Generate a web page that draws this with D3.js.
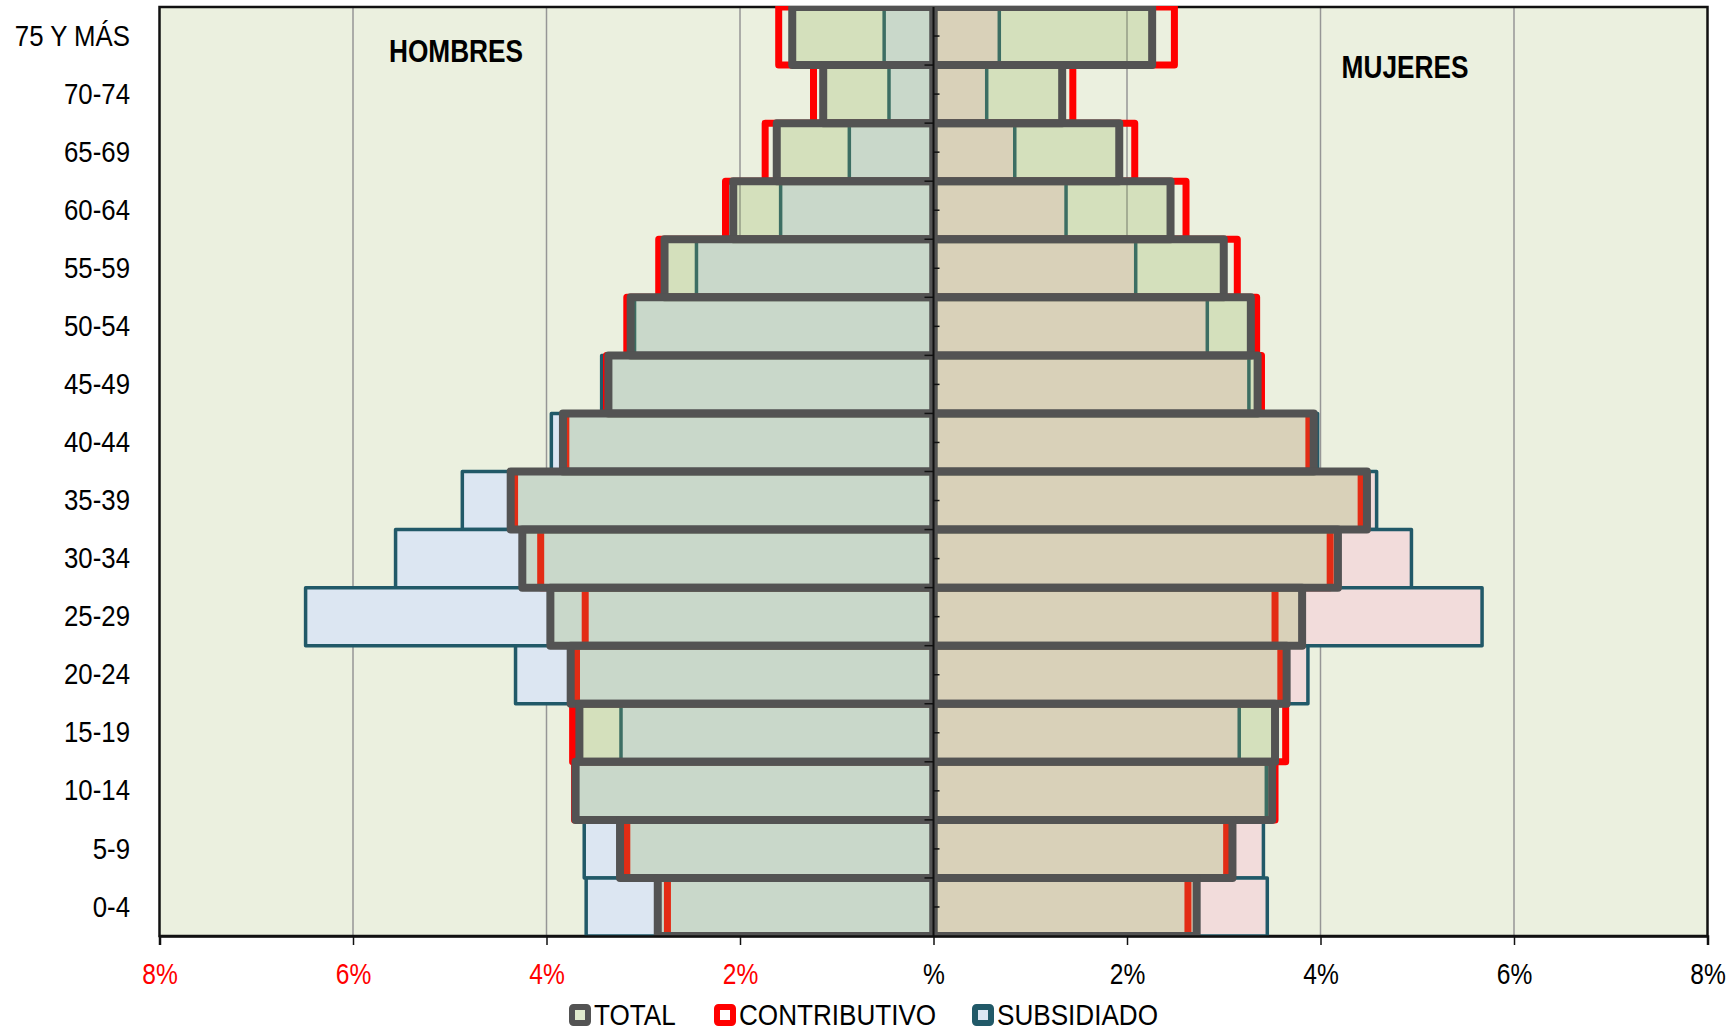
<!DOCTYPE html>
<html>
<head>
<meta charset="utf-8">
<script src="https://cdn.jsdelivr.net/npm/d3@7"></script>
<style>
  body { margin: 0; background: #ffffff; }
  text { font-family: "Liberation Sans Narrow", "Arial Narrow", "Liberation Sans", Arial, sans-serif; }
</style>
</head>
<body>
<div id="chart"></div>
<script>
// Age groups, top to bottom
const ageGroups = ['75 Y MÁS', '70-74', '65-69', '60-64', '55-59', '50-54', '45-49', '40-44',
    '35-39', '30-34', '25-29', '20-24', '15-19', '10-14', '5-9', '0-4'];

// Hombres (% of population)
const menTotal   = [1.46, 1.14, 1.62, 2.07, 2.78, 3.13, 3.36, 3.83, 4.37, 4.25, 3.96, 3.75, 3.66, 3.70, 3.24, 2.85];
const menContrib = [1.60, 1.24, 1.74, 2.15, 2.84, 3.17, 3.38, 3.80, 4.33, 4.06, 3.60, 3.69, 3.73, 3.71, 3.17, 2.75];
const menSubs    = [0.51, 0.46, 0.87, 1.58, 2.45, 3.09, 3.43, 3.95, 4.87, 5.56, 6.49, 4.32, 3.23, 3.68, 3.61, 3.59];

// Mujeres (% of population)
const womenTotal   = [2.26, 1.33, 1.92, 2.45, 3.00, 3.28, 3.35, 3.93, 4.48, 4.18, 3.81, 3.65, 3.53, 3.50, 3.09, 2.72];
const womenContrib = [2.49, 1.44, 2.08, 2.61, 3.14, 3.34, 3.39, 3.88, 4.42, 4.10, 3.53, 3.59, 3.64, 3.53, 3.03, 2.63];
const womenSubs    = [0.68, 0.55, 0.84, 1.37, 2.09, 2.83, 3.26, 3.97, 4.58, 4.94, 5.67, 3.87, 3.16, 3.44, 3.41, 3.45];

const xTicks = [-8, -6, -4, -2, 0, 2, 4, 6, 8];
const legendItems = ['TOTAL', 'CONTRIBUTIVO', 'SUBSIDIADO'];

const W = 1731, H = 1032;
const plot = { left: 159.5, right: 1707.5, top: 7, bottom: 936 };
const narrow = 0.82; // condensed look, no narrow font installed

const svg = d3.select('#chart')
    .append('svg')
    .attr('width', W)
    .attr('height', H);

// Scales
const x = d3.scaleLinear()
    .domain([-8, 8])
    .range([plot.left, plot.right]);

const y = d3.scaleBand()
    .domain(ageGroups)
    .range([plot.top, plot.bottom])
    .padding(0);

// Plot background
svg.append('rect')
    .attr('x', plot.left)
    .attr('y', plot.top)
    .attr('width', plot.right - plot.left)
    .attr('height', plot.bottom - plot.top)
    .attr('fill', '#EBF0DF');

// Grid lines
svg.append('g')
    .selectAll('line')
    .data(xTicks.filter(d => d !== 0 && Math.abs(d) !== 8))
    .enter()
    .append('line')
    .attr('x1', d => x(d))
    .attr('x2', d => x(d))
    .attr('y1', plot.top)
    .attr('y2', plot.bottom)
    .attr('stroke', '#969696')
    .attr('stroke-width', 1.5);

// Plot border
svg.append('rect')
    .attr('x', plot.left)
    .attr('y', plot.top)
    .attr('width', plot.right - plot.left)
    .attr('height', plot.bottom - plot.top)
    .attr('fill', 'none')
    .attr('stroke', '#111111')
    .attr('stroke-width', 2.5);

svg.append('clipPath')
    .attr('id', 'plotClip')
    .append('rect')
    .attr('x', plot.left)
    .attr('y', plot.top - 1)
    .attr('width', plot.right - plot.left)
    .attr('height', plot.bottom - plot.top + 1);

const bars = svg.append('g').attr('clip-path', 'url(#plotClip)');

// Build one layer of bars: sign -1 = hombres, +1 = mujeres
function drawLayer(values, sign, style) {
    bars.append('g')
        .selectAll('rect')
        .data(values.map((v, i) => ({ age: ageGroups[i], v: v })))
        .enter()
        .append('rect')
        .attr('x', d => Math.min(x(0), x(sign * d.v)))
        .attr('y', d => y(d.age))
        .attr('width', d => Math.abs(x(sign * d.v) - x(0)))
        .attr('height', y.bandwidth())
        .attr('fill', style.fill)
        .attr('fill-opacity', style.opacity == null ? 1 : style.opacity)
        .attr('stroke', style.stroke)
        .attr('stroke-width', style.width)
        .attr('stroke-linejoin', 'round');
}

const subsMen = { fill: '#DCE6F2', stroke: '#215968', width: 3.5 };
const subsWomen = { fill: '#F2DCDB', stroke: '#215968', width: 3.5 };
const contribStyle = { fill: 'none', stroke: '#FF0000', width: 7 };
const totalStyle = { fill: '#8FAF54', opacity: 0.25, stroke: '#535353', width: 8 };

drawLayer(menSubs, -1, subsMen);
drawLayer(womenSubs, 1, subsWomen);
drawLayer(menContrib, -1, contribStyle);
drawLayer(womenContrib, 1, contribStyle);
drawLayer(menTotal, -1, totalStyle);
drawLayer(womenTotal, 1, totalStyle);

// Vertical category axis at zero
const zeroAxis = svg.append('g');
zeroAxis.append('line')
    .attr('x1', x(0)).attr('x2', x(0))
    .attr('y1', plot.top).attr('y2', plot.bottom)
    .attr('stroke', '#111111')
    .attr('stroke-width', 2);
// major ticks at band edges
zeroAxis.selectAll('.major')
    .data(ageGroups.slice(1))
    .enter()
    .append('line')
    .attr('x1', x(0) - 9).attr('x2', x(0))
    .attr('y1', d => y(d)).attr('y2', d => y(d))
    .attr('stroke', '#111111')
    .attr('stroke-width', 1.5);
// minor ticks at band centres
zeroAxis.selectAll('.minor')
    .data(ageGroups)
    .enter()
    .append('line')
    .attr('x1', x(0)).attr('x2', x(0) + 6)
    .attr('y1', d => y(d) + y.bandwidth() / 2)
    .attr('y2', d => y(d) + y.bandwidth() / 2)
    .attr('stroke', '#111111')
    .attr('stroke-width', 1.5);

// Bottom axis
const xAxis = d3.axisBottom(x)
    .tickValues(xTicks)
    .tickSize(9)
    .tickPadding(18)
    .tickFormat(d => d === 0 ? '%' : Math.abs(d) + '%');

const gx = svg.append('g')
    .attr('transform', `translate(0,${plot.bottom})`)
    .call(xAxis);
gx.select('.domain').attr('stroke', '#111111').attr('stroke-width', 2.5);
gx.selectAll('.tick line').attr('stroke', '#111111').attr('stroke-width', 1.5);
gx.selectAll('.tick text')
    .style('font-size', '30px')
    .attr('transform', `scale(${narrow},1)`)
    .attr('fill', d => d < 0 ? '#FF0000' : '#000000');

// Category labels on the left
const gy = svg.append('g')
    .attr('transform', `translate(130,0)`)
    .call(d3.axisLeft(y).tickSize(0).tickPadding(0));
gy.select('.domain').remove();
gy.selectAll('.tick text')
    .style('font-size', '30px')
    .attr('transform', 'scale(0.86,1)')
    .attr('fill', '#000000');

// Condensed text helper
function label(px, py, str, size, weight, anchor, sx) {
    return svg.append('text')
        .attr('transform', `translate(${px},${py}) scale(${sx || narrow},1)`)
        .attr('text-anchor', anchor)
        .style('font-size', size + 'px')
        .style('font-weight', weight)
        .attr('fill', '#000000')
        .text(str);
}

// Side titles
label(456, 62, 'HOMBRES', 32, 700, 'middle');
label(1405, 78, 'MUJERES', 32, 700, 'middle');

// Legend
const legendX = [580, 725, 983];
const legendStyles = [
    { stroke: '#535353', fill: '#E1EBCD' },
    { stroke: '#FF0000', fill: '#FFFFFF' },
    { stroke: '#215968', fill: '#DCE6F2' }
];
const legend = svg.append('g');
legendItems.forEach((name, i) => {
    legend.append('rect')
        .attr('x', legendX[i] - 8)
        .attr('y', 1015 - 8)
        .attr('width', 16)
        .attr('height', 16)
        .attr('rx', 1.5)
        .attr('fill', legendStyles[i].fill)
        .attr('stroke', legendStyles[i].stroke)
        .attr('stroke-width', 6);
    label(legendX[i] + 14, 1025, name, 30, 400, 'start', 0.87);
});
</script>
</body>
</html>
